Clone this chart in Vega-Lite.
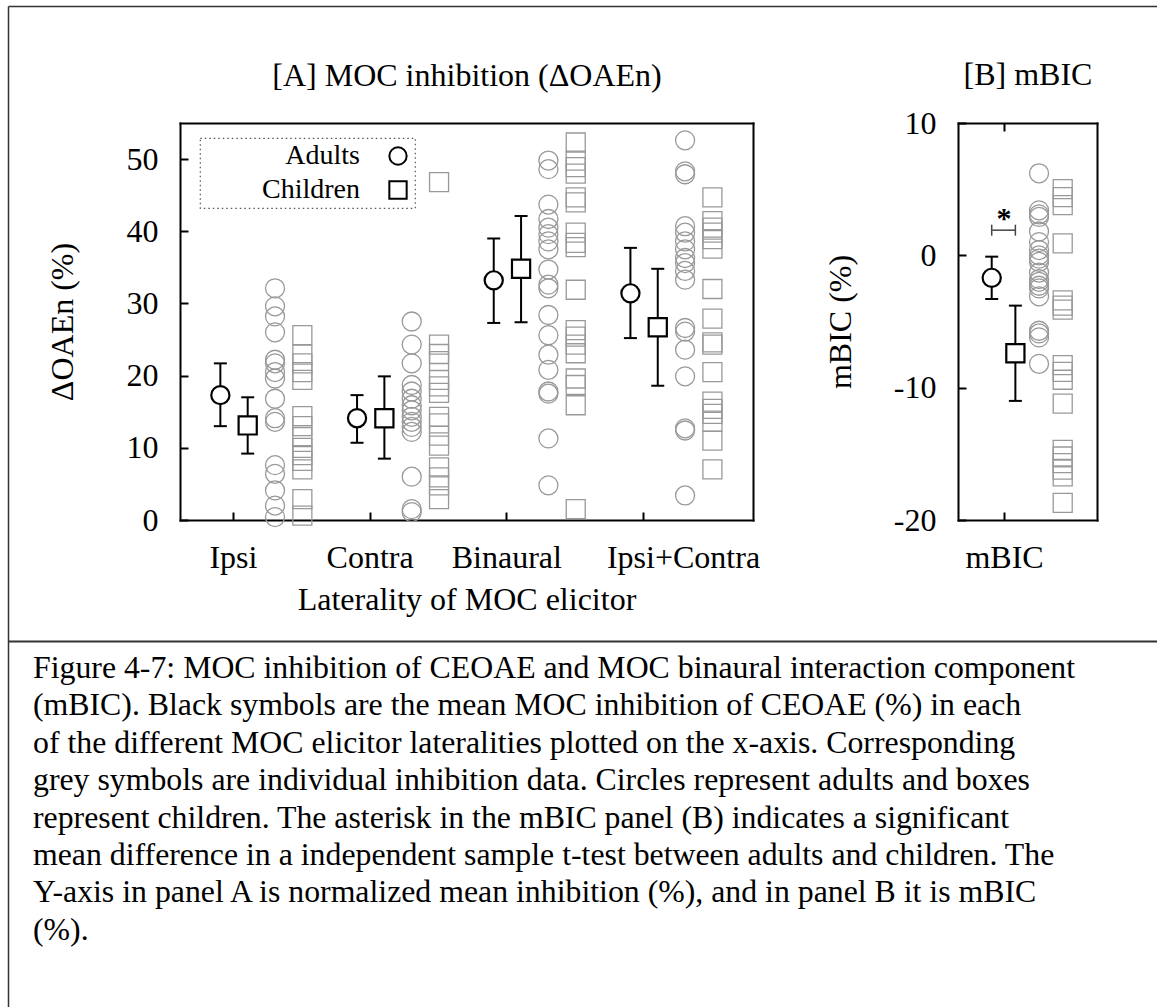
{
  "$schema": "https://vega.github.io/schema/vega-lite/v6.json",
  "width": 1149,
  "height": 1001,
  "autosize": {"type": "none"},
  "padding": {"left": 8, "top": 6, "right": 0, "bottom": 0},
  "background": "white",
  "config": {
    "view": {"stroke": null},
    "font": "Liberation Serif",
    "legend": {"strokeDash": [1.5, 3], "strokeWidth": 1.2},
    "axis": {
      "labelFont": "Liberation Serif", "titleFont": "Liberation Serif",
      "labelFontSize": 32, "titleFontSize": 32, "labelColor": "black", "titleColor": "black",
      "titleFontWeight": "normal", "domainColor": "black", "domainWidth": 2, "domainCap": "square",
      "tickColor": "black", "tickWidth": 2, "grid": false, "labelFlush": false, "labelOverlap": false,
      "minExtent": 0, "maxExtent": 400
    }
  },
  "title": {
    "text": [
      "Figure 4-7: MOC inhibition of CEOAE and MOC binaural interaction component",
      "(mBIC). Black symbols are the mean MOC inhibition of CEOAE (%) in each",
      "of the different MOC elicitor lateralities plotted on the x-axis. Corresponding",
      "grey symbols are individual inhibition data. Circles represent adults and boxes",
      "represent children. The asterisk in the mBIC panel (B) indicates a significant",
      "mean difference in a independent sample t-test between adults and children. The",
      "Y-axis in panel A is normalized mean inhibition (%), and in panel B it is mBIC",
      "(%)."
    ],
    "orient": "bottom", "anchor": "start", "frame": "group", "offset": -354, "dx": 25,
    "font": "Liberation Serif", "fontSize": 31.8, "fontWeight": "normal", "color": "black",
    "lineHeight": 37.4, "baseline": "top"
  },
  "datasets": {
    "indA": [
      {"laterality": "Ipsi", "group": "Adults", "value": 32.1},
      {"laterality": "Ipsi", "group": "Adults", "value": 29.6},
      {"laterality": "Ipsi", "group": "Adults", "value": 28.2},
      {"laterality": "Ipsi", "group": "Adults", "value": 26.0},
      {"laterality": "Ipsi", "group": "Adults", "value": 22.2},
      {"laterality": "Ipsi", "group": "Adults", "value": 21.7},
      {"laterality": "Ipsi", "group": "Adults", "value": 20.5},
      {"laterality": "Ipsi", "group": "Adults", "value": 19.6},
      {"laterality": "Ipsi", "group": "Adults", "value": 16.8},
      {"laterality": "Ipsi", "group": "Adults", "value": 14.1},
      {"laterality": "Ipsi", "group": "Adults", "value": 13.6},
      {"laterality": "Ipsi", "group": "Adults", "value": 7.6},
      {"laterality": "Ipsi", "group": "Adults", "value": 6.4},
      {"laterality": "Ipsi", "group": "Adults", "value": 4.1},
      {"laterality": "Ipsi", "group": "Adults", "value": 2.0},
      {"laterality": "Ipsi", "group": "Adults", "value": 0.4},
      {"laterality": "Ipsi", "group": "Children", "value": 25.6},
      {"laterality": "Ipsi", "group": "Children", "value": 22.9},
      {"laterality": "Ipsi", "group": "Children", "value": 21.7},
      {"laterality": "Ipsi", "group": "Children", "value": 20.5},
      {"laterality": "Ipsi", "group": "Children", "value": 19.4},
      {"laterality": "Ipsi", "group": "Children", "value": 14.4},
      {"laterality": "Ipsi", "group": "Children", "value": 13.0},
      {"laterality": "Ipsi", "group": "Children", "value": 11.5},
      {"laterality": "Ipsi", "group": "Children", "value": 10.0},
      {"laterality": "Ipsi", "group": "Children", "value": 9.0},
      {"laterality": "Ipsi", "group": "Children", "value": 8.2},
      {"laterality": "Ipsi", "group": "Children", "value": 7.0},
      {"laterality": "Ipsi", "group": "Children", "value": 2.9},
      {"laterality": "Ipsi", "group": "Children", "value": 0.6},
      {"laterality": "Contra", "group": "Adults", "value": 27.5},
      {"laterality": "Contra", "group": "Adults", "value": 24.3},
      {"laterality": "Contra", "group": "Adults", "value": 21.7},
      {"laterality": "Contra", "group": "Adults", "value": 18.7},
      {"laterality": "Contra", "group": "Adults", "value": 17.8},
      {"laterality": "Contra", "group": "Adults", "value": 16.8},
      {"laterality": "Contra", "group": "Adults", "value": 15.9},
      {"laterality": "Contra", "group": "Adults", "value": 15.2},
      {"laterality": "Contra", "group": "Adults", "value": 14.3},
      {"laterality": "Contra", "group": "Adults", "value": 13.6},
      {"laterality": "Contra", "group": "Adults", "value": 12.9},
      {"laterality": "Contra", "group": "Adults", "value": 12.2},
      {"laterality": "Contra", "group": "Adults", "value": 6.0},
      {"laterality": "Contra", "group": "Adults", "value": 1.5},
      {"laterality": "Contra", "group": "Adults", "value": 1.1},
      {"laterality": "Contra", "group": "Children", "value": 46.8},
      {"laterality": "Contra", "group": "Children", "value": 24.3},
      {"laterality": "Contra", "group": "Children", "value": 23.0},
      {"laterality": "Contra", "group": "Children", "value": 22.0},
      {"laterality": "Contra", "group": "Children", "value": 19.4},
      {"laterality": "Contra", "group": "Children", "value": 18.5},
      {"laterality": "Contra", "group": "Children", "value": 17.6},
      {"laterality": "Contra", "group": "Children", "value": 14.3},
      {"laterality": "Contra", "group": "Children", "value": 13.4},
      {"laterality": "Contra", "group": "Children", "value": 11.7},
      {"laterality": "Contra", "group": "Children", "value": 10.3},
      {"laterality": "Contra", "group": "Children", "value": 7.3},
      {"laterality": "Contra", "group": "Children", "value": 5.9},
      {"laterality": "Contra", "group": "Children", "value": 4.8},
      {"laterality": "Contra", "group": "Children", "value": 2.9},
      {"laterality": "Binaural", "group": "Adults", "value": 49.8},
      {"laterality": "Binaural", "group": "Adults", "value": 48.6},
      {"laterality": "Binaural", "group": "Adults", "value": 43.7},
      {"laterality": "Binaural", "group": "Adults", "value": 41.7},
      {"laterality": "Binaural", "group": "Adults", "value": 40.5},
      {"laterality": "Binaural", "group": "Adults", "value": 39.6},
      {"laterality": "Binaural", "group": "Adults", "value": 38.6},
      {"laterality": "Binaural", "group": "Adults", "value": 37.5},
      {"laterality": "Binaural", "group": "Adults", "value": 34.7},
      {"laterality": "Binaural", "group": "Adults", "value": 32.6},
      {"laterality": "Binaural", "group": "Adults", "value": 32.1},
      {"laterality": "Binaural", "group": "Adults", "value": 28.4},
      {"laterality": "Binaural", "group": "Adults", "value": 25.6},
      {"laterality": "Binaural", "group": "Adults", "value": 22.9},
      {"laterality": "Binaural", "group": "Adults", "value": 20.8},
      {"laterality": "Binaural", "group": "Adults", "value": 17.8},
      {"laterality": "Binaural", "group": "Adults", "value": 17.5},
      {"laterality": "Binaural", "group": "Adults", "value": 11.3},
      {"laterality": "Binaural", "group": "Adults", "value": 4.8},
      {"laterality": "Binaural", "group": "Children", "value": 52.3},
      {"laterality": "Binaural", "group": "Children", "value": 49.8},
      {"laterality": "Binaural", "group": "Children", "value": 48.9},
      {"laterality": "Binaural", "group": "Children", "value": 48.0},
      {"laterality": "Binaural", "group": "Children", "value": 44.7},
      {"laterality": "Binaural", "group": "Children", "value": 44.0},
      {"laterality": "Binaural", "group": "Children", "value": 39.8},
      {"laterality": "Binaural", "group": "Children", "value": 38.4},
      {"laterality": "Binaural", "group": "Children", "value": 37.8},
      {"laterality": "Binaural", "group": "Children", "value": 31.9},
      {"laterality": "Binaural", "group": "Children", "value": 26.3},
      {"laterality": "Binaural", "group": "Children", "value": 25.4},
      {"laterality": "Binaural", "group": "Children", "value": 24.3},
      {"laterality": "Binaural", "group": "Children", "value": 23.1},
      {"laterality": "Binaural", "group": "Children", "value": 19.6},
      {"laterality": "Binaural", "group": "Children", "value": 18.7},
      {"laterality": "Binaural", "group": "Children", "value": 15.9},
      {"laterality": "Binaural", "group": "Children", "value": 1.5},
      {"laterality": "Ipsi+Contra", "group": "Adults", "value": 52.6},
      {"laterality": "Ipsi+Contra", "group": "Adults", "value": 48.3},
      {"laterality": "Ipsi+Contra", "group": "Adults", "value": 47.9},
      {"laterality": "Ipsi+Contra", "group": "Adults", "value": 40.7},
      {"laterality": "Ipsi+Contra", "group": "Adults", "value": 39.8},
      {"laterality": "Ipsi+Contra", "group": "Adults", "value": 38.6},
      {"laterality": "Ipsi+Contra", "group": "Adults", "value": 37.5},
      {"laterality": "Ipsi+Contra", "group": "Adults", "value": 36.3},
      {"laterality": "Ipsi+Contra", "group": "Adults", "value": 35.6},
      {"laterality": "Ipsi+Contra", "group": "Adults", "value": 34.5},
      {"laterality": "Ipsi+Contra", "group": "Adults", "value": 33.3},
      {"laterality": "Ipsi+Contra", "group": "Adults", "value": 26.6},
      {"laterality": "Ipsi+Contra", "group": "Adults", "value": 26.1},
      {"laterality": "Ipsi+Contra", "group": "Adults", "value": 23.6},
      {"laterality": "Ipsi+Contra", "group": "Adults", "value": 19.9},
      {"laterality": "Ipsi+Contra", "group": "Adults", "value": 12.7},
      {"laterality": "Ipsi+Contra", "group": "Adults", "value": 12.4},
      {"laterality": "Ipsi+Contra", "group": "Adults", "value": 3.4},
      {"laterality": "Ipsi+Contra", "group": "Children", "value": 44.7},
      {"laterality": "Ipsi+Contra", "group": "Children", "value": 41.4},
      {"laterality": "Ipsi+Contra", "group": "Children", "value": 40.5},
      {"laterality": "Ipsi+Contra", "group": "Children", "value": 39.8},
      {"laterality": "Ipsi+Contra", "group": "Children", "value": 38.9},
      {"laterality": "Ipsi+Contra", "group": "Children", "value": 37.6},
      {"laterality": "Ipsi+Contra", "group": "Children", "value": 32.0},
      {"laterality": "Ipsi+Contra", "group": "Children", "value": 27.9},
      {"laterality": "Ipsi+Contra", "group": "Children", "value": 24.6},
      {"laterality": "Ipsi+Contra", "group": "Children", "value": 24.3},
      {"laterality": "Ipsi+Contra", "group": "Children", "value": 20.5},
      {"laterality": "Ipsi+Contra", "group": "Children", "value": 16.4},
      {"laterality": "Ipsi+Contra", "group": "Children", "value": 15.4},
      {"laterality": "Ipsi+Contra", "group": "Children", "value": 14.7},
      {"laterality": "Ipsi+Contra", "group": "Children", "value": 13.6},
      {"laterality": "Ipsi+Contra", "group": "Children", "value": 11.0},
      {"laterality": "Ipsi+Contra", "group": "Children", "value": 7.0}
    ],
    "meanA": [
      {"laterality": "Ipsi", "group": "Adults", "mean": 17.3, "lo": 13.0, "hi": 21.7},
      {"laterality": "Ipsi", "group": "Children", "mean": 13.1, "lo": 9.2, "hi": 17.0},
      {"laterality": "Contra", "group": "Adults", "mean": 14.1, "lo": 10.7, "hi": 17.3},
      {"laterality": "Contra", "group": "Children", "mean": 14.1, "lo": 8.5, "hi": 19.9},
      {"laterality": "Binaural", "group": "Adults", "mean": 33.2, "lo": 27.3, "hi": 39.0},
      {"laterality": "Binaural", "group": "Children", "mean": 34.8, "lo": 27.4, "hi": 42.1},
      {"laterality": "Ipsi+Contra", "group": "Adults", "mean": 31.4, "lo": 25.2, "hi": 37.7},
      {"laterality": "Ipsi+Contra", "group": "Children", "mean": 26.7, "lo": 18.6, "hi": 34.8}
    ],
    "indB": [
      {"measure": "mBIC", "group": "Adults", "value": 6.2},
      {"measure": "mBIC", "group": "Adults", "value": 3.4},
      {"measure": "mBIC", "group": "Adults", "value": 3.1},
      {"measure": "mBIC", "group": "Adults", "value": 2.9},
      {"measure": "mBIC", "group": "Adults", "value": 1.8},
      {"measure": "mBIC", "group": "Adults", "value": 1.0},
      {"measure": "mBIC", "group": "Adults", "value": 0.4},
      {"measure": "mBIC", "group": "Adults", "value": 0.0},
      {"measure": "mBIC", "group": "Adults", "value": -0.25},
      {"measure": "mBIC", "group": "Adults", "value": -0.5},
      {"measure": "mBIC", "group": "Adults", "value": -1.3},
      {"measure": "mBIC", "group": "Adults", "value": -1.8},
      {"measure": "mBIC", "group": "Adults", "value": -2.0},
      {"measure": "mBIC", "group": "Adults", "value": -2.3},
      {"measure": "mBIC", "group": "Adults", "value": -2.5},
      {"measure": "mBIC", "group": "Adults", "value": -3.1},
      {"measure": "mBIC", "group": "Adults", "value": -5.7},
      {"measure": "mBIC", "group": "Adults", "value": -5.9},
      {"measure": "mBIC", "group": "Adults", "value": -6.2},
      {"measure": "mBIC", "group": "Adults", "value": -8.2},
      {"measure": "mBIC", "group": "Children", "value": 5.0},
      {"measure": "mBIC", "group": "Children", "value": 4.4},
      {"measure": "mBIC", "group": "Children", "value": 3.8},
      {"measure": "mBIC", "group": "Children", "value": 0.9},
      {"measure": "mBIC", "group": "Children", "value": -3.4},
      {"measure": "mBIC", "group": "Children", "value": -3.8},
      {"measure": "mBIC", "group": "Children", "value": -4.1},
      {"measure": "mBIC", "group": "Children", "value": -8.3},
      {"measure": "mBIC", "group": "Children", "value": -8.8},
      {"measure": "mBIC", "group": "Children", "value": -9.4},
      {"measure": "mBIC", "group": "Children", "value": -11.2},
      {"measure": "mBIC", "group": "Children", "value": -14.7},
      {"measure": "mBIC", "group": "Children", "value": -15.2},
      {"measure": "mBIC", "group": "Children", "value": -15.7},
      {"measure": "mBIC", "group": "Children", "value": -16.2},
      {"measure": "mBIC", "group": "Children", "value": -16.7},
      {"measure": "mBIC", "group": "Children", "value": -18.7}
    ],
    "meanB": [
      {"measure": "mBIC", "group": "Adults", "mean": -1.7, "lo": -3.3, "hi": -0.1},
      {"measure": "mBIC", "group": "Children", "mean": -7.4, "lo": -11.0, "hi": -3.8}
    ],
    "sigB": [
      {"measure": "mBIC", "group": "Adults", "bracket": 1.9, "marker": "*"},
      {"measure": "mBIC", "group": "Children", "bracket": 1.9, "marker": "*"}
    ]
  },
  "layer": [
    {
      "layer": [
        {
          "data": {"name": "indA"},
          "transform": [{"calculate": "datum.group + ' individual'", "as": "series"}],
          "mark": {"type": "point", "filled": false, "color": "#999999", "strokeWidth": 1.3, "size": 361, "opacity": 1},
          "encoding": {
            "x": {"field": "laterality", "type": "nominal",
              "scale": {"type": "point", "domain": ["Ipsi", "Contra", "Binaural", "Ipsi+Contra"], "range": [172, 745], "padding": 0.596, "align": 0.325},
              "axis": {"orient": "bottom", "offset": -487, "tickSize": -8, "labelPadding": 30, "labelAngle": 0,
                "labelOffset": {"condition": {"test": "datum.value === 'Ipsi+Contra'", "value": 40}, "value": 0},
                "title": "Laterality of MOC elicitor", "titlePadding": 11}},
            "xOffset": {"field": "series", "type": "nominal",
              "scale": {"type": "point", "domain": ["Adults mean", "Children mean", "Adults individual", "Children individual"], "range": [-12.6, 69.4], "padding": 0}},
            "y": {"field": "value", "type": "quantitative",
              "scale": {"domain": [0, 55], "range": [514, 117], "nice": false, "zero": false},
              "axis": {"orient": "left", "offset": -172, "values": [0, 10, 20, 30, 40, 50], "tickSize": -8, "labelPadding": 30,
                "title": "ΔOAEn (%)", "titlePadding": 47}},
            "shape": {"field": "group", "type": "nominal", "scale": {"domain": ["Adults", "Children"], "range": ["circle", "square"]},
              "legend": {
                "orient": "none", "legendX": 192, "legendY": 132, "title": null, "direction": "vertical",
                "labelFont": "Liberation Serif", "labelFontSize": 28, "labelColor": "black", "labelLimit": 400,
                "labelAlign": "right", "labelOffset": -52, "symbolOffset": 180,
                "labelExpr": "'\u00a0\u00a0\u00a0\u00a0\u00a0\u00a0\u00a0\u00a0' + datum.label",
                "symbolSize": 300, "symbolStrokeWidth": 2, "symbolStrokeColor": "black", "symbolFillColor": "transparent",
                "rowPadding": 6, "padding": 4, "strokeColor": "#555555",
                "encode": {
                  "legend": {"strokeDash": {"value": [1.5, 3]}, "strokeWidth": {"value": 1.2}},
                  "symbols": {"stroke": {"value": "black"}, "strokeWidth": {"value": 2}}
                }
              }}
          }
        },
        {
          "data": {"name": "meanA"},
          "transform": [{"calculate": "datum.group + ' mean'", "as": "series"}],
          "mark": {"type": "rule", "color": "black", "strokeWidth": 2},
          "encoding": {
            "x": {"field": "laterality", "type": "nominal",
              "scale": {"type": "point", "domain": ["Ipsi", "Contra", "Binaural", "Ipsi+Contra"], "range": [172, 745], "padding": 0.596, "align": 0.325},
              "axis": {"orient": "top", "offset": -117, "labels": false, "ticks": false, "title": "[A] MOC inhibition (ΔOAEn)", "titlePadding": 31}},
            "xOffset": {"field": "series", "type": "nominal",
              "scale": {"type": "point", "domain": ["Adults mean", "Children mean", "Adults individual", "Children individual"], "range": [-12.6, 69.4], "padding": 0}},
            "y": {"field": "lo", "type": "quantitative",
              "axis": {"orient": "right", "offset": -404, "labels": false, "ticks": false, "title": null}},
            "y2": {"field": "hi"}
          }
        },
        {
          "data": {"name": "meanA"},
          "transform": [{"calculate": "datum.group + ' mean'", "as": "series"}],
          "mark": {"type": "tick", "orient": "horizontal", "size": 13, "thickness": 2, "color": "black", "opacity": 1},
          "encoding": {
            "x": {"field": "laterality", "type": "nominal", "axis": null,
              "scale": {"type": "point", "domain": ["Ipsi", "Contra", "Binaural", "Ipsi+Contra"], "range": [172, 745], "padding": 0.596, "align": 0.325}},
            "xOffset": {"field": "series", "type": "nominal",
              "scale": {"type": "point", "domain": ["Adults mean", "Children mean", "Adults individual", "Children individual"], "range": [-12.6, 69.4], "padding": 0}},
            "y": {"field": "lo", "type": "quantitative", "axis": null}
          }
        },
        {
          "data": {"name": "meanA"},
          "transform": [{"calculate": "datum.group + ' mean'", "as": "series"}],
          "mark": {"type": "tick", "orient": "horizontal", "size": 13, "thickness": 2, "color": "black", "opacity": 1},
          "encoding": {
            "x": {"field": "laterality", "type": "nominal", "axis": null,
              "scale": {"type": "point", "domain": ["Ipsi", "Contra", "Binaural", "Ipsi+Contra"], "range": [172, 745], "padding": 0.596, "align": 0.325}},
            "xOffset": {"field": "series", "type": "nominal",
              "scale": {"type": "point", "domain": ["Adults mean", "Children mean", "Adults individual", "Children individual"], "range": [-12.6, 69.4], "padding": 0}},
            "y": {"field": "hi", "type": "quantitative", "axis": null}
          }
        },
        {
          "data": {"name": "meanA"},
          "transform": [{"calculate": "datum.group + ' mean'", "as": "series"}],
          "mark": {"type": "point", "filled": false, "color": "black", "fill": "white", "strokeWidth": 2.2, "size": 330, "opacity": 1},
          "encoding": {
            "x": {"field": "laterality", "type": "nominal", "axis": null,
              "scale": {"type": "point", "domain": ["Ipsi", "Contra", "Binaural", "Ipsi+Contra"], "range": [172, 745], "padding": 0.596, "align": 0.325}},
            "xOffset": {"field": "series", "type": "nominal",
              "scale": {"type": "point", "domain": ["Adults mean", "Children mean", "Adults individual", "Children individual"], "range": [-12.6, 69.4], "padding": 0}},
            "y": {"field": "mean", "type": "quantitative", "axis": null},
            "shape": {"field": "group", "type": "nominal"}
          }
        }
      ],
      "resolve": {"axis": {"x": "independent", "y": "independent"}}
    },
    {
      "layer": [
        {
          "data": {"name": "indB"},
          "transform": [{"calculate": "datum.group + ' individual'", "as": "series"}],
          "mark": {"type": "point", "filled": false, "color": "#999999", "strokeWidth": 1.3, "size": 361, "opacity": 1},
          "encoding": {
            "x": {"field": "measure", "type": "nominal",
              "scale": {"type": "point", "domain": ["mBIC"], "range": [950, 1089], "padding": 0, "align": 0.331},
              "axis": {"orient": "bottom", "offset": -487, "tickSize": -8, "labelPadding": 30, "labelAngle": 0, "title": null}},
            "xOffset": {"field": "series", "type": "nominal",
              "scale": {"type": "point", "domain": ["Adults mean", "Children mean", "Adults individual", "Children individual"], "range": [-12.3, 58.7], "padding": 0}},
            "y": {"field": "value", "type": "quantitative",
              "scale": {"domain": [-20, 10], "range": [514, 117], "nice": false, "zero": false},
              "axis": {"orient": "left", "offset": -950, "values": [-20, -10, 0, 10], "labelExpr": "'' + datum.value",
                "tickSize": -8, "labelPadding": 30, "title": "mBIC (%)", "titlePadding": 36}},
            "shape": {"field": "group", "type": "nominal"}
          }
        },
        {
          "data": {"name": "meanB"},
          "transform": [{"calculate": "datum.group + ' mean'", "as": "series"}],
          "mark": {"type": "rule", "color": "black", "strokeWidth": 2},
          "encoding": {
            "x": {"field": "measure", "type": "nominal",
              "scale": {"type": "point", "domain": ["mBIC"], "range": [950, 1089], "padding": 0, "align": 0.331},
              "axis": {"orient": "top", "offset": -117, "labels": false, "ticks": true, "tickSize": -8, "title": "[B] mBIC", "titlePadding": 31}},
            "xOffset": {"field": "series", "type": "nominal",
              "scale": {"type": "point", "domain": ["Adults mean", "Children mean", "Adults individual", "Children individual"], "range": [-12.3, 58.7], "padding": 0}},
            "y": {"field": "lo", "type": "quantitative",
              "axis": {"orient": "right", "offset": -60, "labels": false, "ticks": false, "title": null}},
            "y2": {"field": "hi"}
          }
        },
        {
          "data": {"name": "meanB"},
          "transform": [{"calculate": "datum.group + ' mean'", "as": "series"}],
          "mark": {"type": "tick", "orient": "horizontal", "size": 13, "thickness": 2, "color": "black", "opacity": 1},
          "encoding": {
            "x": {"field": "measure", "type": "nominal", "axis": null,
              "scale": {"type": "point", "domain": ["mBIC"], "range": [950, 1089], "padding": 0, "align": 0.331}},
            "xOffset": {"field": "series", "type": "nominal",
              "scale": {"type": "point", "domain": ["Adults mean", "Children mean", "Adults individual", "Children individual"], "range": [-12.3, 58.7], "padding": 0}},
            "y": {"field": "lo", "type": "quantitative", "axis": null}
          }
        },
        {
          "data": {"name": "meanB"},
          "transform": [{"calculate": "datum.group + ' mean'", "as": "series"}],
          "mark": {"type": "tick", "orient": "horizontal", "size": 13, "thickness": 2, "color": "black", "opacity": 1},
          "encoding": {
            "x": {"field": "measure", "type": "nominal", "axis": null,
              "scale": {"type": "point", "domain": ["mBIC"], "range": [950, 1089], "padding": 0, "align": 0.331}},
            "xOffset": {"field": "series", "type": "nominal",
              "scale": {"type": "point", "domain": ["Adults mean", "Children mean", "Adults individual", "Children individual"], "range": [-12.3, 58.7], "padding": 0}},
            "y": {"field": "hi", "type": "quantitative", "axis": null}
          }
        },
        {
          "data": {"name": "meanB"},
          "transform": [{"calculate": "datum.group + ' mean'", "as": "series"}],
          "mark": {"type": "point", "filled": false, "color": "black", "fill": "white", "strokeWidth": 2.2, "size": 330, "opacity": 1},
          "encoding": {
            "x": {"field": "measure", "type": "nominal", "axis": null,
              "scale": {"type": "point", "domain": ["mBIC"], "range": [950, 1089], "padding": 0, "align": 0.331}},
            "xOffset": {"field": "series", "type": "nominal",
              "scale": {"type": "point", "domain": ["Adults mean", "Children mean", "Adults individual", "Children individual"], "range": [-12.3, 58.7], "padding": 0}},
            "y": {"field": "mean", "type": "quantitative", "axis": null},
            "shape": {"field": "group", "type": "nominal"}
          }
        },
        {
          "data": {"name": "sigB"},
          "transform": [{"filter": "datum.group === 'Adults'"}],
          "mark": {"type": "tick", "orient": "horizontal", "size": 23.7, "thickness": 1.5, "color": "#444444", "opacity": 1},
          "encoding": {
            "x": {"field": "measure", "type": "nominal", "axis": null,
              "scale": {"type": "point", "domain": ["mBIC"], "range": [950, 1089], "padding": 0, "align": 0.331}},
            "y": {"field": "bracket", "type": "quantitative", "axis": null}
          }
        },
        {
          "data": {"name": "sigB"},
          "transform": [{"calculate": "datum.group + ' mean'", "as": "series"}],
          "mark": {"type": "tick", "orient": "vertical", "size": 11, "thickness": 1.5, "color": "#444444", "opacity": 1},
          "encoding": {
            "x": {"field": "measure", "type": "nominal", "axis": null,
              "scale": {"type": "point", "domain": ["mBIC"], "range": [950, 1089], "padding": 0, "align": 0.331}},
            "xOffset": {"field": "series", "type": "nominal",
              "scale": {"type": "point", "domain": ["Adults mean", "Children mean", "Adults individual", "Children individual"], "range": [-12.3, 58.7], "padding": 0}},
            "y": {"field": "bracket", "type": "quantitative", "axis": null}
          }
        },
        {
          "data": {"name": "sigB"},
          "transform": [{"filter": "datum.group === 'Adults'"}],
          "mark": {"type": "text", "font": "Liberation Serif", "fontSize": 30, "fontWeight": "bold", "color": "black", "baseline": "alphabetic", "dy": -2},
          "encoding": {
            "x": {"field": "measure", "type": "nominal", "axis": null,
              "scale": {"type": "point", "domain": ["mBIC"], "range": [950, 1089], "padding": 0, "align": 0.331}},
            "y": {"field": "bracket", "type": "quantitative", "axis": null},
            "text": {"field": "marker"}
          }
        }
      ],
      "resolve": {"axis": {"x": "independent", "y": "independent"}}
    },
    {
      "data": {"values": []},
      "layer": [
        {
          "mark": {"type": "rule"},
          "encoding": {
            "x": {"field": "edge", "type": "quantitative",
              "scale": {"domain": [0, 1], "range": [0, 1149], "nice": false, "zero": false},
              "axis": {"orient": "bottom", "offset": -366, "labels": false, "ticks": false, "title": null,
                "domainColor": "#333333", "domainWidth": 2, "domainCap": "butt"}},
            "y": {"field": "edge", "type": "quantitative",
              "scale": {"domain": [0, 1], "range": [1001, 0], "nice": false, "zero": false},
              "axis": {"orient": "left", "offset": 0, "labels": false, "ticks": false, "title": null,
                "domainColor": "#333333", "domainWidth": 1.5, "domainCap": "butt"}}
          }
        },
        {
          "mark": {"type": "rule"},
          "encoding": {
            "x": {"field": "edge", "type": "quantitative",
              "axis": {"orient": "top", "offset": 0, "labels": false, "ticks": false, "title": null,
                "domainColor": "#333333", "domainWidth": 1.5, "domainCap": "butt"}}
          }
        }
      ],
      "resolve": {"axis": {"x": "independent", "y": "independent"}}
    }
  ],
  "resolve": {
    "scale": {"x": "independent", "y": "independent", "xOffset": "independent"},
    "axis": {"x": "independent", "y": "independent"}
  }
}
